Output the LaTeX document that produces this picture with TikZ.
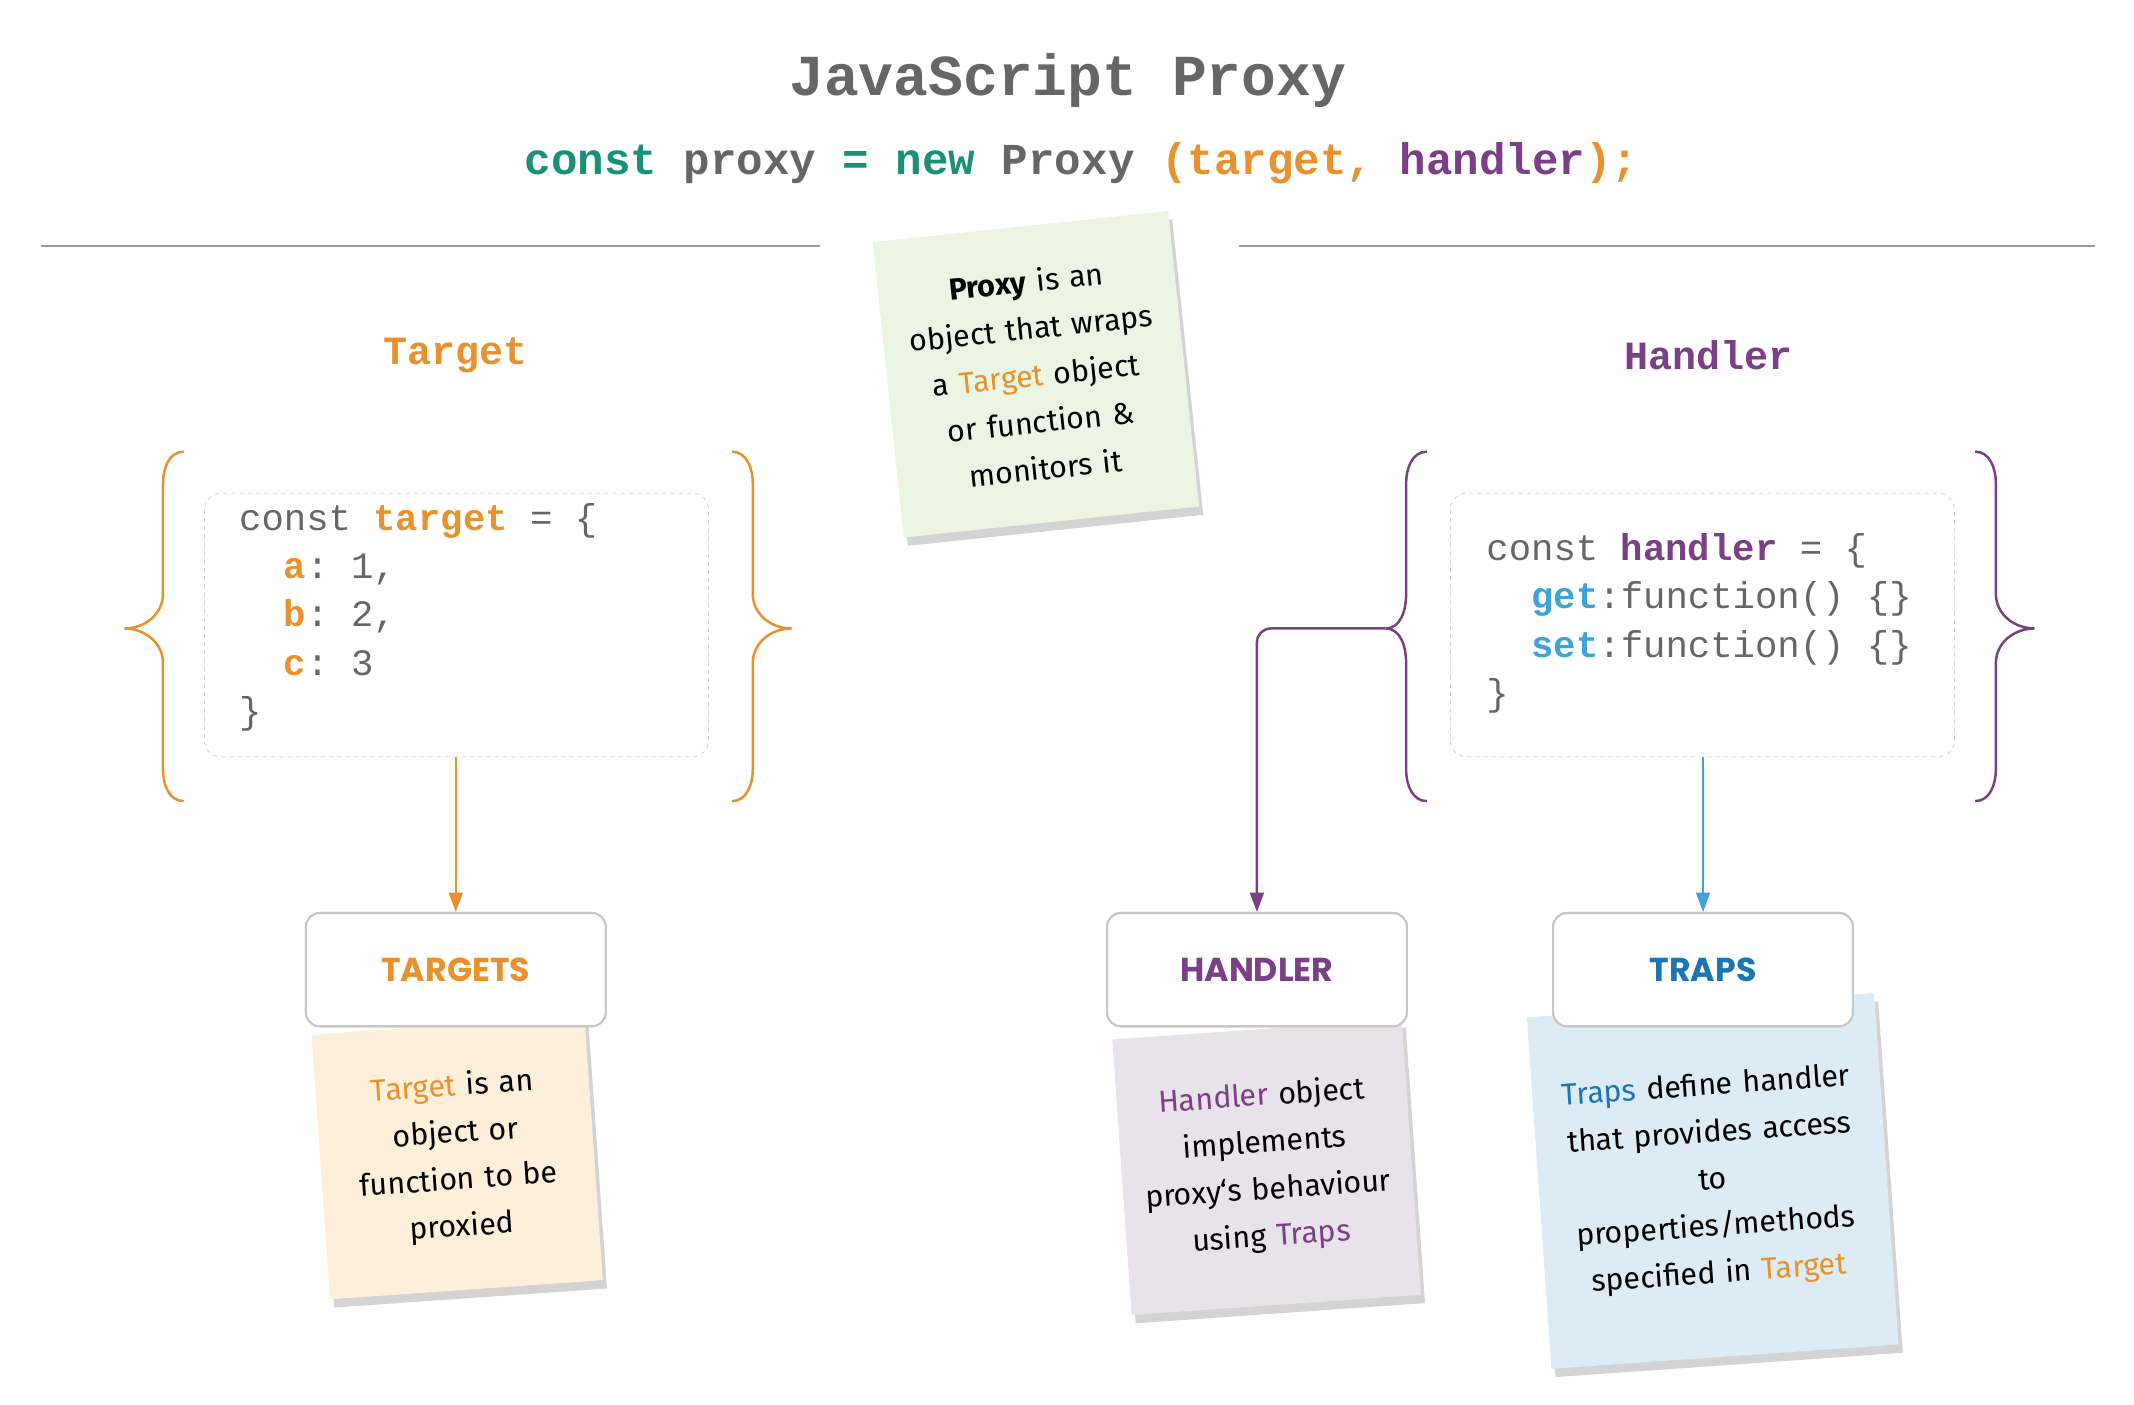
\documentclass[tikz,border=0pt]{standalone}
\usepackage{fontspec}
\setmainfont{Fira Sans}
\setmonofont{Liberation Mono}
\newfontfamily\labfont{Poppins}
\usetikzlibrary{shadows,arrows.meta}
\definecolor{cor}{HTML}{E8912D}
\definecolor{cpu}{HTML}{7B3F85}
\definecolor{cte}{HTML}{1A9077}
\definecolor{cbl}{HTML}{3FA3D9}
\definecolor{cdb}{HTML}{1B75B0}
\definecolor{cgr}{HTML}{666666}
\definecolor{ngreen}{HTML}{EBF5E3}
\definecolor{norange}{HTML}{FDEFD9}
\definecolor{npurple}{HTML}{E8E2EB}
\definecolor{nblue}{HTML}{DDEBF5}
\tikzset{
 note/.style={draw=none,align=center,font=\fontsize{22}{34}\selectfont,text width=200pt,drop shadow={shadow xshift=3pt,shadow yshift=-6pt,opacity=.35}},
 codebox/.style={draw=gray!50,dashed,rounded corners=12pt},
 lab/.style={draw=gray!45,line width=1.5pt,rounded corners=10pt,fill=white,minimum width=217pt,minimum height=82pt,font=\labfont\bfseries\fontsize{24}{28}\selectfont},
 code/.style={anchor=north west,align=left,text=cgr,font=\ttfamily\fontsize{27}{35}\selectfont,inner sep=0pt},
 brc/.style={line width=1.8pt},
 arr/.style={line width=1.8pt,-{Triangle[length=14pt,width=10pt]}}
}
\begin{document}
\begin{tikzpicture}[x=1pt,y=1pt]
\useasboundingbox (0,0) rectangle (1545,-1017);
\node (title) at (773,-58) {\ttfamily\bfseries\fontsize{42}{48}\selectfont\color{cgr}JavaScript Proxy};
\node (sub) at (783,-118) {\ttfamily\bfseries\fontsize{32}{36}\selectfont\color{cte}const \color{cgr}proxy \color{cte}= new \color{cgr}Proxy \color{cor}(target, \color{cpu}handler\color{cor});};
\draw[gray!80,line width=1.5pt] (30,-178) -- (594,-178) (897,-178) -- (1517,-178);
\node[note,fill=ngreen,rotate=6,minimum width=215pt,minimum height=215pt] (gn) at (750,-271) {\textbf{Proxy} is an\\object that wraps\\a \textcolor{cor}{Target} object\\or function \&\\monitors it};
\node (tt) at (330,-257) {\ttfamily\bfseries\fontsize{29}{32}\selectfont\color{cor}Target};
\node (ht) at (1237,-257) {\ttfamily\bfseries\fontsize{29}{32}\selectfont\color{cpu}Handler};
% left braces
\draw[brc,cor] (133,-327) to[out=180,in=90] (118,-350) -- (118,-430) to[out=-90,in=0] (90,-455) to[out=0,in=90] (118,-480) -- (118,-557) to[out=-90,in=180] (133,-580);
\draw[brc,cor] (530,-327) to[out=0,in=90] (545,-350) -- (545,-430) to[out=-90,in=180] (573,-455) to[out=180,in=90] (545,-480) -- (545,-557) to[out=-90,in=0] (530,-580);
\draw[codebox] (148,-357) rectangle (513,-548);
\node[code] (tc) at (173,-364) {const \textcolor{cor}{\textbf{target}} = \{\\\ \ \textcolor{cor}{\textbf{a}}: 1,\\\ \ \textcolor{cor}{\textbf{b}}: 2,\\\ \ \textcolor{cor}{\textbf{c}}: 3\\\}};
\coordinate (ts) at (330,-548);
\node[lab,text=cor] (tl) at (330,-702) {TARGETS};
\draw[arr,cor] (ts) -- (tl.north);
% right braces
\draw[brc,cpu] (1033,-327) to[out=180,in=90] (1018,-350) -- (1018,-430) to[out=-90,in=0] (1003,-455) to[out=0,in=90] (1018,-480) -- (1018,-557) to[out=-90,in=180] (1033,-580);
\draw[brc,cpu] (1430,-327) to[out=0,in=90] (1445,-350) -- (1445,-430) to[out=-90,in=180] (1473,-455) to[out=180,in=90] (1445,-480) -- (1445,-557) to[out=-90,in=0] (1430,-580);
\draw[codebox] (1050,-357) rectangle (1415,-548);
\node[code] (hc) at (1076,-386) {const \textcolor{cpu}{\textbf{handler}} = \{\\\ \ \textcolor{cbl}{\textbf{get}}:function() \{\}\\\ \ \textcolor{cbl}{\textbf{set}}:function() \{\}\\\}};
\coordinate (hb) at (1003,-455);
\coordinate (hs) at (1233,-548);
\node[lab,text=cpu] (hl) at (910,-702) {HANDLER};
\node[lab,text=cdb] (pl) at (1233,-702) {TRAPS};
\draw[arr,cpu,rounded corners=10pt] (hb) -- (910,-455) -- (hl.north);
\draw[arr,cbl] (hs) -- (pl.north);
% notes
\node[note,fill=norange,rotate=4,minimum width=198pt,minimum height=192pt,text width=180pt] (on) at (331,-838) {\textcolor{cor}{Target} is an\\object or\\function to be\\proxied};
\node[note,fill=npurple,rotate=4,minimum width=210pt,minimum height=200pt] (pn) at (917,-845) {\textcolor{cpu}{Handler} object\\implements\\proxy`s behaviour\\using \textcolor{cpu}{Traps}};
\node[note,fill=nblue,rotate=4,minimum width=252pt,minimum height=255pt,text width=240pt] (bn) at (1240,-855) {\textcolor{cdb}{Traps} define handler\\that provides access\\to\\properties/methods\\specified in \textcolor{cor}{Target}};
\node[lab,text=cor] at (330,-702) {TARGETS};
\node[lab,text=cpu] at (910,-702) {HANDLER};
\node[lab,text=cdb] at (1233,-702) {TRAPS};
\end{tikzpicture}
\end{document}
